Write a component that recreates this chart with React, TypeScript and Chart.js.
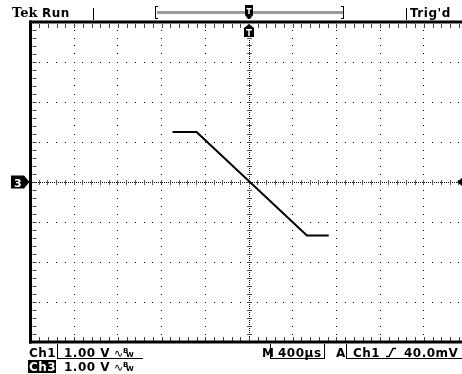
import { useEffect, useRef } from "react";
import { Chart, registerables } from "chart.js";

Chart.register(...registerables);

// ---- data (Ch1 trace, time in ms relative to trigger, volts) ----
const timeMs = [-0.7, -0.48, 0.53, 0.73];
const ch1Volts = [1.25, 1.25, -1.34, -1.34];

// ---- scope settings ----
const timePerDivMs = 0.4;
const voltsPerDiv = 1.0;
const hDivs = 10;
const vDivs = 8;
const visibleHDivs = 9.874; // graticule is cut by the right edge of the screen
const headerTexts = ["Tek", "Run", "Trig'd"];
const ch1Readout = ["Ch1", "1.00 V"];
const ch3Readout = ["Ch3", "1.00 V"];
const timebaseReadout = ["M", "400µs"];
const triggerReadout = ["A", "Ch1", "40.0mV"];

const FONT = "bold 12px 'DejaVu Sans'";

const scopePlugin = {
  id: "scope",
  beforeDraw(chart: any) {
    const ctx = chart.ctx;
    ctx.save();
    ctx.fillStyle = "#fff";
    ctx.fillRect(0, 0, chart.width, chart.height);
    ctx.restore();
  },
  beforeDatasetsDraw(chart: any) {
    const ctx = chart.ctx;
    const xs = chart.scales.x;
    const ys = chart.scales.y;
    const x0 = -hDivs / 2 * timePerDivMs;
    const y0 = -vDivs / 2 * voltsPerDiv;
    const px = (d: number) => xs.getPixelForValue(x0 + d * timePerDivMs);
    const py = (d: number) => ys.getPixelForValue(y0 + d * voltsPerDiv);
    const W = chart.width;
    ctx.save();
    ctx.fillStyle = "#000";
    const dot = (x: number, y: number, w = 1, h = 1) =>
      ctx.fillRect(Math.round(x - w / 2), Math.round(y - h / 2), w, h);
    // dotted division lines
    for (let i = 1; i < hDivs; i++) {
      if (i === hDivs / 2) continue;
      const x = px(i);
      if (x > W) continue;
      for (let j = 1; j < vDivs * 5; j++) dot(x, py(j / 5));
    }
    for (let k = 1; k < vDivs; k++) {
      if (k === vDivs / 2) continue;
      const y = py(k);
      for (let j = 1; j < hDivs * 5; j++) {
        const x = px(j / 5);
        if (x < W) dot(x, y);
      }
    }
    // center crosshair
    const cx = px(hDivs / 2);
    const cy = py(vDivs / 2);
    for (let x = px(0); x < W; x += 2) dot(x, cy);
    for (let y = py(vDivs); y < py(0); y += 2) dot(cx, y);
    ctx.fillStyle = "#555";
    for (let j = 1; j < hDivs * 5; j++) {
      const x = px(j / 5);
      if (x < W) dot(x, cy, 1, 5);
    }
    for (let j = 1; j < vDivs * 5; j++) dot(cx, py(j / 5), 5, 1);
    // border ticks
    ctx.fillStyle = "#444";
    const left = px(0), top = py(vDivs), bottom = py(0);
    for (let j = 1; j < hDivs * 5; j++) {
      const x = px(j / 5);
      if (x >= W) continue;
      ctx.fillRect(Math.round(x), top + 2, 1, 4);
      ctx.fillRect(Math.round(x), bottom - 5, 1, 4);
    }
    for (let j = 1; j < vDivs * 5; j++) {
      const y = py(j / 5);
      ctx.fillRect(left + 2, Math.round(y), 4, 1);
    }
    // border
    ctx.fillStyle = "#000";
    ctx.fillRect(left - 1.5, top - 1.5, 3, bottom - top + 3);
    ctx.fillRect(left - 1.5, top - 1.5, W - left + 2, 3);
    ctx.fillRect(left - 1.5, bottom - 1.5, W - left + 2, 3);
    ctx.restore();
  },
  afterDraw(chart: any) {
    const ctx = chart.ctx;
    const xs = chart.scales.x;
    const ys = chart.scales.y;
    const cx = xs.getPixelForValue(0);
    const cy = ys.getPixelForValue(0);
    const top = chart.chartArea.top;
    const left = chart.chartArea.left;
    const W = chart.width;
    ctx.save();
    ctx.textBaseline = "alphabetic";
    ctx.fillStyle = "#000";
    ctx.strokeStyle = "#000";
    ctx.lineWidth = 1;
    const vline = (x: number, y1: number, y2: number) => {
      ctx.beginPath();
      ctx.moveTo(x + 0.5, y1);
      ctx.lineTo(x + 0.5, y2);
      ctx.stroke();
    };
    const hline = (y: number, x1: number, x2: number) => {
      ctx.beginPath();
      ctx.moveTo(x1, y + 0.5);
      ctx.lineTo(x2, y + 0.5);
      ctx.stroke();
    };
    // ---- header ----
    ctx.font = "bold 13px 'DejaVu Serif'";
    ctx.fillText(headerTexts[0], 12, 17);
    ctx.font = FONT;
    (ctx as any).letterSpacing = "0.5px";
    ctx.fillText(headerTexts[1], 42, 17);
    vline(93, 8, 20);
    // record bracket
    ctx.fillStyle = "#999";
    ctx.fillRect(157, 11, 186, 3);
    ctx.fillStyle = "#000";
    vline(155, 6, 19);
    hline(6, 155, 158);
    hline(18, 155, 158);
    vline(343, 6, 19);
    hline(6, 341, 344);
    hline(18, 341, 344);
    // trigger position marker (header)
    ctx.beginPath();
    ctx.moveTo(cx - 4, 5);
    ctx.lineTo(cx + 4, 5);
    ctx.lineTo(cx + 4, 15);
    ctx.lineTo(cx + 1, 19);
    ctx.lineTo(cx - 1, 19);
    ctx.lineTo(cx - 4, 15);
    ctx.closePath();
    ctx.fill();
    ctx.fillStyle = "#fff";
    ctx.fillRect(cx - 2.5, 8, 5, 1.5);
    ctx.fillRect(cx - 0.75, 8, 1.5, 6);
    ctx.fillStyle = "#000";
    vline(406, 8, 20);
    ctx.fillText(headerTexts[2], 410, 17);
    // trigger position marker (graticule)
    ctx.beginPath();
    ctx.moveTo(cx, top + 2);
    ctx.lineTo(cx + 5, top + 6);
    ctx.lineTo(cx + 5, top + 15);
    ctx.lineTo(cx - 5, top + 15);
    ctx.lineTo(cx - 5, top + 6);
    ctx.closePath();
    ctx.fill();
    ctx.fillStyle = "#fff";
    ctx.fillRect(cx - 3, top + 7, 6, 1.5);
    ctx.fillRect(cx - 0.75, top + 7, 1.5, 7);
    ctx.fillStyle = "#000";
    // ch3 ground marker
    ctx.beginPath();
    ctx.moveTo(11, cy - 6.5);
    ctx.lineTo(24, cy - 6.5);
    ctx.lineTo(left - 1, cy);
    ctx.lineTo(24, cy + 6.5);
    ctx.lineTo(11, cy + 6.5);
    ctx.closePath();
    ctx.fill();
    ctx.fillStyle = "#fff";
    (ctx as any).letterSpacing = "0px";
    ctx.font = "bold 11px 'DejaVu Sans'";
    ctx.fillText("3", 14, cy + 4.5);
    ctx.fillStyle = "#000";
    // trigger level arrow on right
    ctx.beginPath();
    ctx.moveTo(W - 5, cy);
    ctx.lineTo(W, cy - 4);
    ctx.lineTo(W, cy + 4);
    ctx.closePath();
    ctx.fill();
    // ---- footer ----
    ctx.font = FONT;
    (ctx as any).letterSpacing = "0.5px";
    const bw = (x: number, y: number) => {
      (ctx as any).letterSpacing = "0px";
      ctx.font = "11px 'DejaVu Sans'";
      ctx.fillText("∿", x, y);
      ctx.font = "bold 7px 'DejaVu Sans'";
      ctx.fillText("B", x + 9, y - 4);
      ctx.fillText("W", x + 12, y);
      ctx.font = FONT;
      (ctx as any).letterSpacing = "0.5px";
    };
    ctx.fillText(ch1Readout[0], 29, 357);
    vline(57, 344, 359);
    hline(358, 57, 143);
    ctx.fillText(ch1Readout[1], 64, 357);
    bw(114, 357);
    ctx.fillRect(28, 360, 28, 13);
    ctx.fillStyle = "#fff";
    ctx.fillText(ch3Readout[0], 29, 371);
    ctx.fillStyle = "#000";
    ctx.fillText(ch3Readout[1], 64, 371);
    bw(114, 371);
    ctx.fillText(timebaseReadout[0], 262, 357);
    vline(270, 344, 359);
    ctx.fillText(timebaseReadout[1], 278, 357);
    vline(324, 344, 359);
    hline(358, 270, 325);
    ctx.fillText(triggerReadout[0], 336, 357);
    vline(346, 344, 359);
    hline(358, 346, W);
    ctx.fillText(triggerReadout[1], 353, 357);
    // rising slope icon
    ctx.lineWidth = 1.5;
    ctx.beginPath();
    ctx.moveTo(386, 356.5);
    ctx.lineTo(389, 356.5);
    ctx.lineTo(393, 348.5);
    ctx.lineTo(396, 348.5);
    ctx.stroke();
    ctx.lineWidth = 1;
    ctx.fillText(triggerReadout[2], 404, 357);
    ctx.restore();
  },
};

export default function App() {
  const ref = useRef<HTMLCanvasElement | null>(null);
  useEffect(() => {
    if (!ref.current) return;
    const xMin = (-hDivs / 2) * timePerDivMs;
    const chart = new Chart(ref.current, {
      type: "scatter",
      data: {
        datasets: [
          {
            label: "Ch1",
            data: timeMs.map((t, i) => ({ x: t, y: ch1Volts[i] })),
            showLine: true,
            borderColor: "#000",
            backgroundColor: "#000",
            borderWidth: 2,
            pointRadius: 0,
            tension: 0,
          },
        ],
      },
      options: {
        animation: false,
        responsive: false,
        devicePixelRatio: 1,
        layout: { padding: { left: 30.5, top: 22, right: 0, bottom: 32 } },
        plugins: { legend: { display: false }, tooltip: { enabled: false } },
        scales: {
          x: {
            type: "linear",
            min: xMin,
            max: xMin + visibleHDivs * timePerDivMs,
            display: false,
          },
          y: {
            type: "linear",
            min: (-vDivs / 2) * voltsPerDiv,
            max: (vDivs / 2) * voltsPerDiv,
            display: false,
          },
        },
      },
      plugins: [scopePlugin],
    });
    return () => chart.destroy();
  }, []);
  return (
    <div style={{ position: "absolute", left: 0, top: 0, width: 462, height: 374, background: "#fff" }}>
      <canvas ref={ref} width={462} height={374} />
    </div>
  );
}
